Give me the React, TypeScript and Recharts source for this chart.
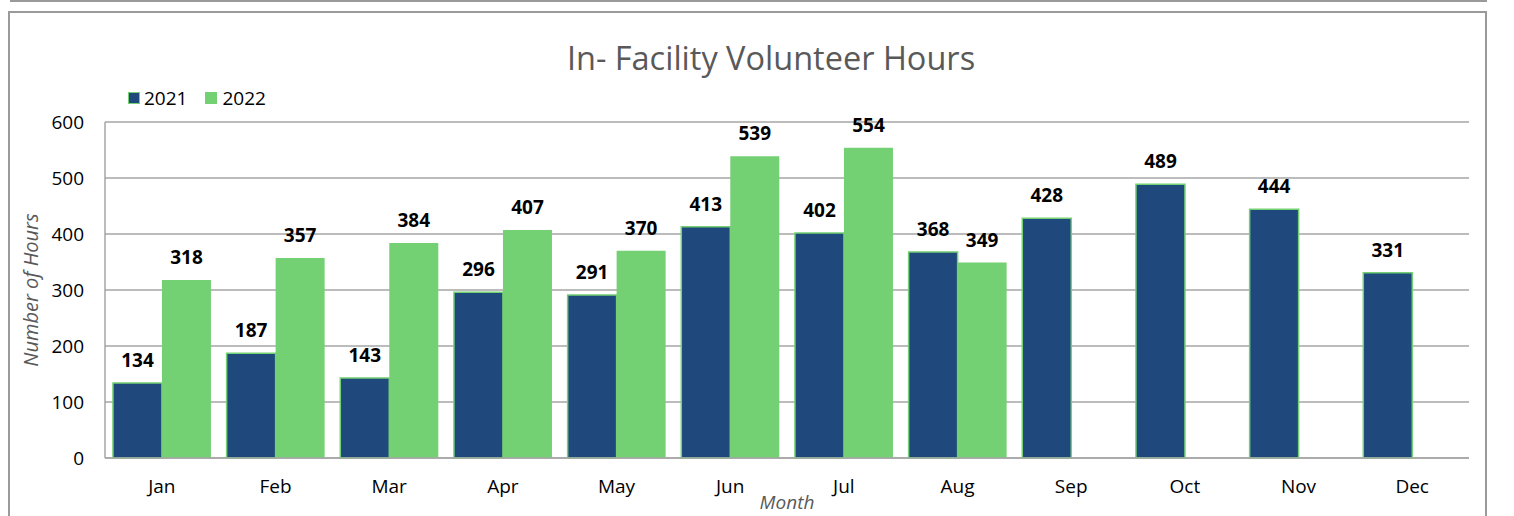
import React from 'react';
import { BarChart, Bar, XAxis, YAxis, CartesianGrid, LabelList } from 'recharts';

const months = ['Jan', 'Feb', 'Mar', 'Apr', 'May', 'Jun', 'Jul', 'Aug', 'Sep', 'Oct', 'Nov', 'Dec'];
const hours2021 = [134, 187, 143, 296, 291, 413, 402, 368, 428, 489, 444, 331];
const hours2022: (number | null)[] = [318, 357, 384, 407, 370, 539, 554, 349, null, null, null, null];
const yTicks = [0, 100, 200, 300, 400, 500, 600];
const seriesNames = ['2021', '2022'];

const data = months.map((m, i) => ({ month: m, y2021: hours2021[i], y2022: hours2022[i] }));

const BLUE = '#1F497D';
const GREEN = '#73D073';
const GRID = '#a6a6a6';
const FONT = '"Open Sans", sans-serif';

export default function App() {
  return (
    <div style={{ position: 'absolute', left: 0, top: 0, width: 1514, height: 516, overflow: 'hidden', background: '#fff' }}>
      <div style={{ position: 'absolute', left: 10, top: -10, width: 1477, height: 12, border: '2px solid #9a9a9a', boxSizing: 'border-box' }} />
      <div style={{ position: 'absolute', left: 8, top: 11, width: 1479, height: 530, border: '2px solid #9a9a9a', boxSizing: 'border-box' }} />
      <div style={{ position: 'absolute', left: 0, top: 0 }}>
        <BarChart
          width={1514}
          height={516}
          data={data}
          margin={{ top: 122, right: 45, bottom: 28, left: 45 }}
          barCategoryGap="7%"
          barGap={0}
        >
          <CartesianGrid vertical={false} stroke={GRID} strokeWidth={1.5} />
          <XAxis
            dataKey="month"
            height={30}
            axisLine={{ stroke: GRID, strokeWidth: 1.5 }}
            tickLine={false}
            tickSize={0}
            tickMargin={22}
            tick={{ fill: '#000', fontSize: 19, fontFamily: FONT }}
            interval={0}
          />
          <YAxis
            width={60}
            domain={[0, 600]}
            ticks={yTicks}
            axisLine={{ stroke: GRID, strokeWidth: 1.5 }}
            tickLine={false}
            tickSize={0}
            tickMargin={21}
            tick={{ fill: '#000', fontSize: 19, fontFamily: FONT }}
          />
          <Bar dataKey="y2021" name={seriesNames[0]} fill={BLUE} stroke={GREEN} strokeWidth={1.5} isAnimationActive={false}>
            <LabelList
              dataKey="y2021"
              position="top"
              offset={16}
              style={{ fill: '#000', fontSize: 19, fontWeight: 700, fontFamily: FONT }}
            />
          </Bar>
          <Bar dataKey="y2022" name={seriesNames[1]} fill={GREEN} isAnimationActive={false}>
            <LabelList
              dataKey="y2022"
              position="top"
              offset={16}
              formatter={(v: any) => (v === null || v === undefined ? '' : v)}
              style={{ fill: '#000', fontSize: 19, fontWeight: 700, fontFamily: FONT }}
            />
          </Bar>
        </BarChart>
      </div>
      <div style={{ position: 'absolute', left: 128, top: 87, display: 'flex', alignItems: 'center', fontFamily: FONT, fontSize: 19, color: '#000', lineHeight: '22px' }}>
        <span style={{ display: 'inline-block', width: 10, height: 10, background: BLUE, border: `1.5px solid ${GREEN}`, marginRight: 4 }} />
        <span style={{ marginRight: 18 }}>{seriesNames[0]}</span>
        <span style={{ display: 'inline-block', width: 12, height: 12, background: GREEN, marginRight: 5 }} />
        <span>{seriesNames[1]}</span>
      </div>
      <div style={{ position: 'absolute', left: 0, width: 1542, top: 38, textAlign: 'center', fontFamily: FONT, fontSize: 32.5, color: '#595959', lineHeight: '40px', whiteSpace: 'nowrap' }}>
        In- Facility Volunteer Hours
      </div>
      <div style={{ position: 'absolute', left: 0, width: 1574, top: 492, textAlign: 'center', fontFamily: FONT, fontSize: 19, fontStyle: 'italic', color: '#595959', lineHeight: '20px' }}>
        Month
      </div>
      <div style={{ position: 'absolute', left: 31, top: 290, width: 0, height: 0 }}>
        <div style={{ position: 'absolute', left: -100, top: -12, width: 200, textAlign: 'center', transform: 'rotate(-90deg)', fontFamily: FONT, fontSize: 20, fontStyle: 'italic', color: '#595959', lineHeight: '24px', whiteSpace: 'nowrap' }}>
          Number of Hours
        </div>
      </div>
    </div>
  );
}
